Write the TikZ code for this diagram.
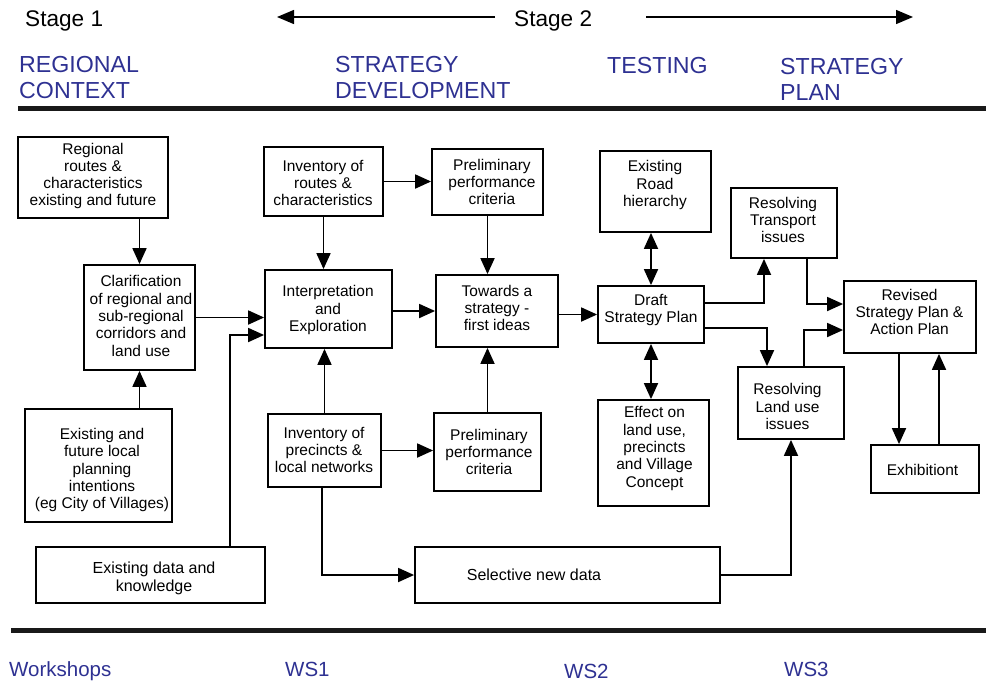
\documentclass[tikz,border=0pt]{standalone}
\usepackage{fontspec}
\setmainfont{Liberation Sans}
\usetikzlibrary{arrows.meta,calc}
\definecolor{headblue}{RGB}{46,49,146}
\begin{document}
\begin{tikzpicture}[x=1pt,y=-1pt,
  box/.style 2 args={draw, line width=1.8pt, minimum width=#1, minimum height=#2, inner sep=0pt},
  txt/.style={align=center, inner sep=0pt, font=\fontsize{15.5}{17.3}\selectfont},
  bigtxt/.style={align=center, inner sep=0pt, font=\fontsize{16}{17.3}\selectfont},
  arr/.style={line width=1.8pt, -{Triangle[length=16pt,width=14pt]}},
  darr/.style={line width=1.8pt, {Triangle[length=16pt,width=14pt]}-{Triangle[length=16pt,width=14pt]}},
  hdrarr/.style={line width=1.4pt, -{Triangle[length=17pt,width=14pt]}},
  stage/.style={anchor=base west, inner sep=0pt, font=\fontsize{22.6}{24}\selectfont},
  phase/.style={anchor=base west, inner sep=0pt, text=headblue, font=\fontsize{23.2}{26}\selectfont},
  ws/.style={anchor=base west, inner sep=0pt, text=headblue, font=\fontsize{20.5}{22}\selectfont},
  rule/.style={line width=5pt, draw=black!90}]
\useasboundingbox (0,0) rectangle (986,681);

% ---------- header ----------
\node[stage] (st1) at (25,26) {Stage 1};
\node[stage] (st2) at (514,26) {Stage 2};
\coordinate (la) at (495,17);
\coordinate (lt) at (277,17);
\coordinate (ra) at (646,17);
\coordinate (rt2) at (913,17);
\draw[hdrarr] (la) -- (lt);
\draw[hdrarr] (ra) -- (rt2);

\node[phase] (ph1a) at (19,72) {REGIONAL};
\node[phase] (ph1b) at (19,98) {CONTEXT};
\node[phase] (ph2a) at (335,72) {STRATEGY};
\node[phase] (ph2b) at (335,98) {DEVELOPMENT};
\node[phase] (ph3) at (607,73) {TESTING};
\node[phase] (ph4a) at (780,74) {STRATEGY};
\node[phase] (ph4b) at (780,100) {PLAN};

\draw[rule] (18,108) -- (986,108);
\draw[rule] (11,630) -- (986,630);

% ---------- boxes ----------
\node[box={150pt}{81pt}]  (reg)    at (93,177.5) {};
\node[box={111pt}{105pt}] (clar)   at (139.5,317.5) {};
\node[box={147pt}{113pt}] (loc)    at (98.5,465.5) {};
\node[box={119pt}{69pt}]  (invr)   at (323.5,181.5) {};
\node[box={127pt}{78pt}]  (interp) at (328.5,309) {};
\node[box={113pt}{73pt}]  (invp)   at (324.5,450.5) {};
\node[box={111pt}{66pt}]  (ppt)    at (487.5,182) {};
\node[box={122pt}{72pt}]  (tow)    at (497,311) {};
\node[box={107pt}{78pt}]  (ppb)    at (487.5,452) {};
\node[box={106pt}{57pt}]  (draft)  at (651,314.5) {};
\node[box={111pt}{81pt}]  (road)   at (655.5,191.5) {};
\node[box={111pt}{106pt}] (eff)    at (653.5,453) {};
\node[box={106pt}{70pt}]  (rtr)    at (784,223) {};
\node[box={106pt}{72pt}]  (rlu)    at (791,403) {};
\node[box={132pt}{72pt}]  (rev)    at (910,317) {};
\node[box={108pt}{48pt}]  (exh)    at (925,469) {};
\node[box={229pt}{56pt}]  (exd)    at (150.5,575) {};
\node[box={305pt}{56pt}]  (sel)    at (567.5,575) {};

% ---------- box texts ----------
\node[txt] (reg-t)    at (93,176)    {Regional\\routes \&\\characteristics\\existing and future};
\node[txt] (clar-t)   at (141,316)   {Clarification\\of regional and\\sub-regional\\corridors and\\land use};
\node[txt] (loc-t)    at (102,470)   {Existing and\\future local\\planning\\intentions\\(eg City of Villages)};
\node[txt] (invr-t)   at (323,183)   {Inventory of\\routes \&\\characteristics};
\node[txt] (interp-t) at (328,310)   {Interpretation\\and\\Exploration};
\node[txt] (invp-t)   at (324,450)   {Inventory of\\precincts \&\\local networks};
\node[txt] (ppt-t)    at (492,182)   {Preliminary\\performance\\criteria};
\node[txt] (tow-t)    at (497,308)   {Towards a\\strategy -\\first ideas};
\node[txt] (ppb-t)    at (489,452)   {Preliminary\\performance\\criteria};
\node[txt] (draft-t)  at (651,310)   {Draft\\Strategy Plan};
\node[txt] (road-t)   at (655,185)   {Existing\\Road\\hierarchy};
\node[txt] (eff-t)    at (654.5,448.5) {Effect on\\land use,\\precincts\\and Village\\Concept};
\node[txt] (rtr-t)    at (783,220)   {Resolving\\Transport\\issues};
\node[txt] (rlu-t)    at (787.5,406.5) {Resolving\\Land use\\issues};
\node[txt] (rev-t)    at (909.5,312) {Revised\\Strategy Plan \&\\Action Plan};
\node[txt] (exh-t)    at (922.5,470) {Exhibitiont};
\node[bigtxt] (exd-t) at (154,578.5) {Existing data and\\knowledge};
\node[bigtxt] (sel-t) at (534,575)   {Selective new data};

% ---------- connectors ----------
\draw[arr] (reg.south -| clar.north) -- (clar.north);
\draw[arr] (loc.north -| clar.south) -- (clar.south);
\draw[arr] (clar.east) -- (clar.east -| interp.west);
\draw[arr] ($(exd.north)+(79.5,0)$) |- ($(interp.west)+(0,26)$);
\draw[arr] (invr.south) -- (invr.south |- interp.north);
\draw[arr] (invp.north) -- (invp.north |- interp.south);
\draw[arr] (invr.east) -- (invr.east -| ppt.west);
\draw[arr] (invp.east) -- (invp.east -| ppb.west);
\draw[arr] (tow.west -| interp.east) -- (tow.west);
\draw[arr] (ppt.south) -- (ppt.south |- tow.north);
\draw[arr] (ppb.north) -- (ppb.north |- tow.south);
\draw[arr] (draft.west -| tow.east) -- (draft.west);
\draw[darr] (draft.north |- road.south) -- (draft.north);
\draw[darr] (draft.south) -- (draft.south |- eff.north);
\draw[arr] ($(draft.east)+(0,-11.5)$) -| ($(rtr.south)+(-20,0)$);
\draw[arr] ($(draft.east)+(0,13.5)$) -| ($(rlu.north)+(-24,0)$);
\draw[arr] ($(rtr.south)+(23,0)$) |- ($(rev.west)+(0,-13)$);
\draw[arr] ($(rlu.north)+(13,0)$) |- ($(rev.west)+(0,13)$);
\draw[arr] ($(rev.south)+(-11,0)$) -- ($(exh.north)+(-26,0)$);
\draw[arr] ($(exh.north)+(14,0)$) -- ($(rev.south)+(29,0)$);
\draw[arr] ($(invp.south)+(-2.5,0)$) |- (sel.west);
\draw[arr] (sel.east) -| (rlu.south);

% ---------- workshops ----------
\node[ws] (wsh) at (9,676)  {Workshops};
\node[ws] (ws1) at (285,676) {WS1};
\node[ws] (ws2) at (564,678) {WS2};
\node[ws] (ws3) at (784,676) {WS3};
\end{tikzpicture}
\end{document}
